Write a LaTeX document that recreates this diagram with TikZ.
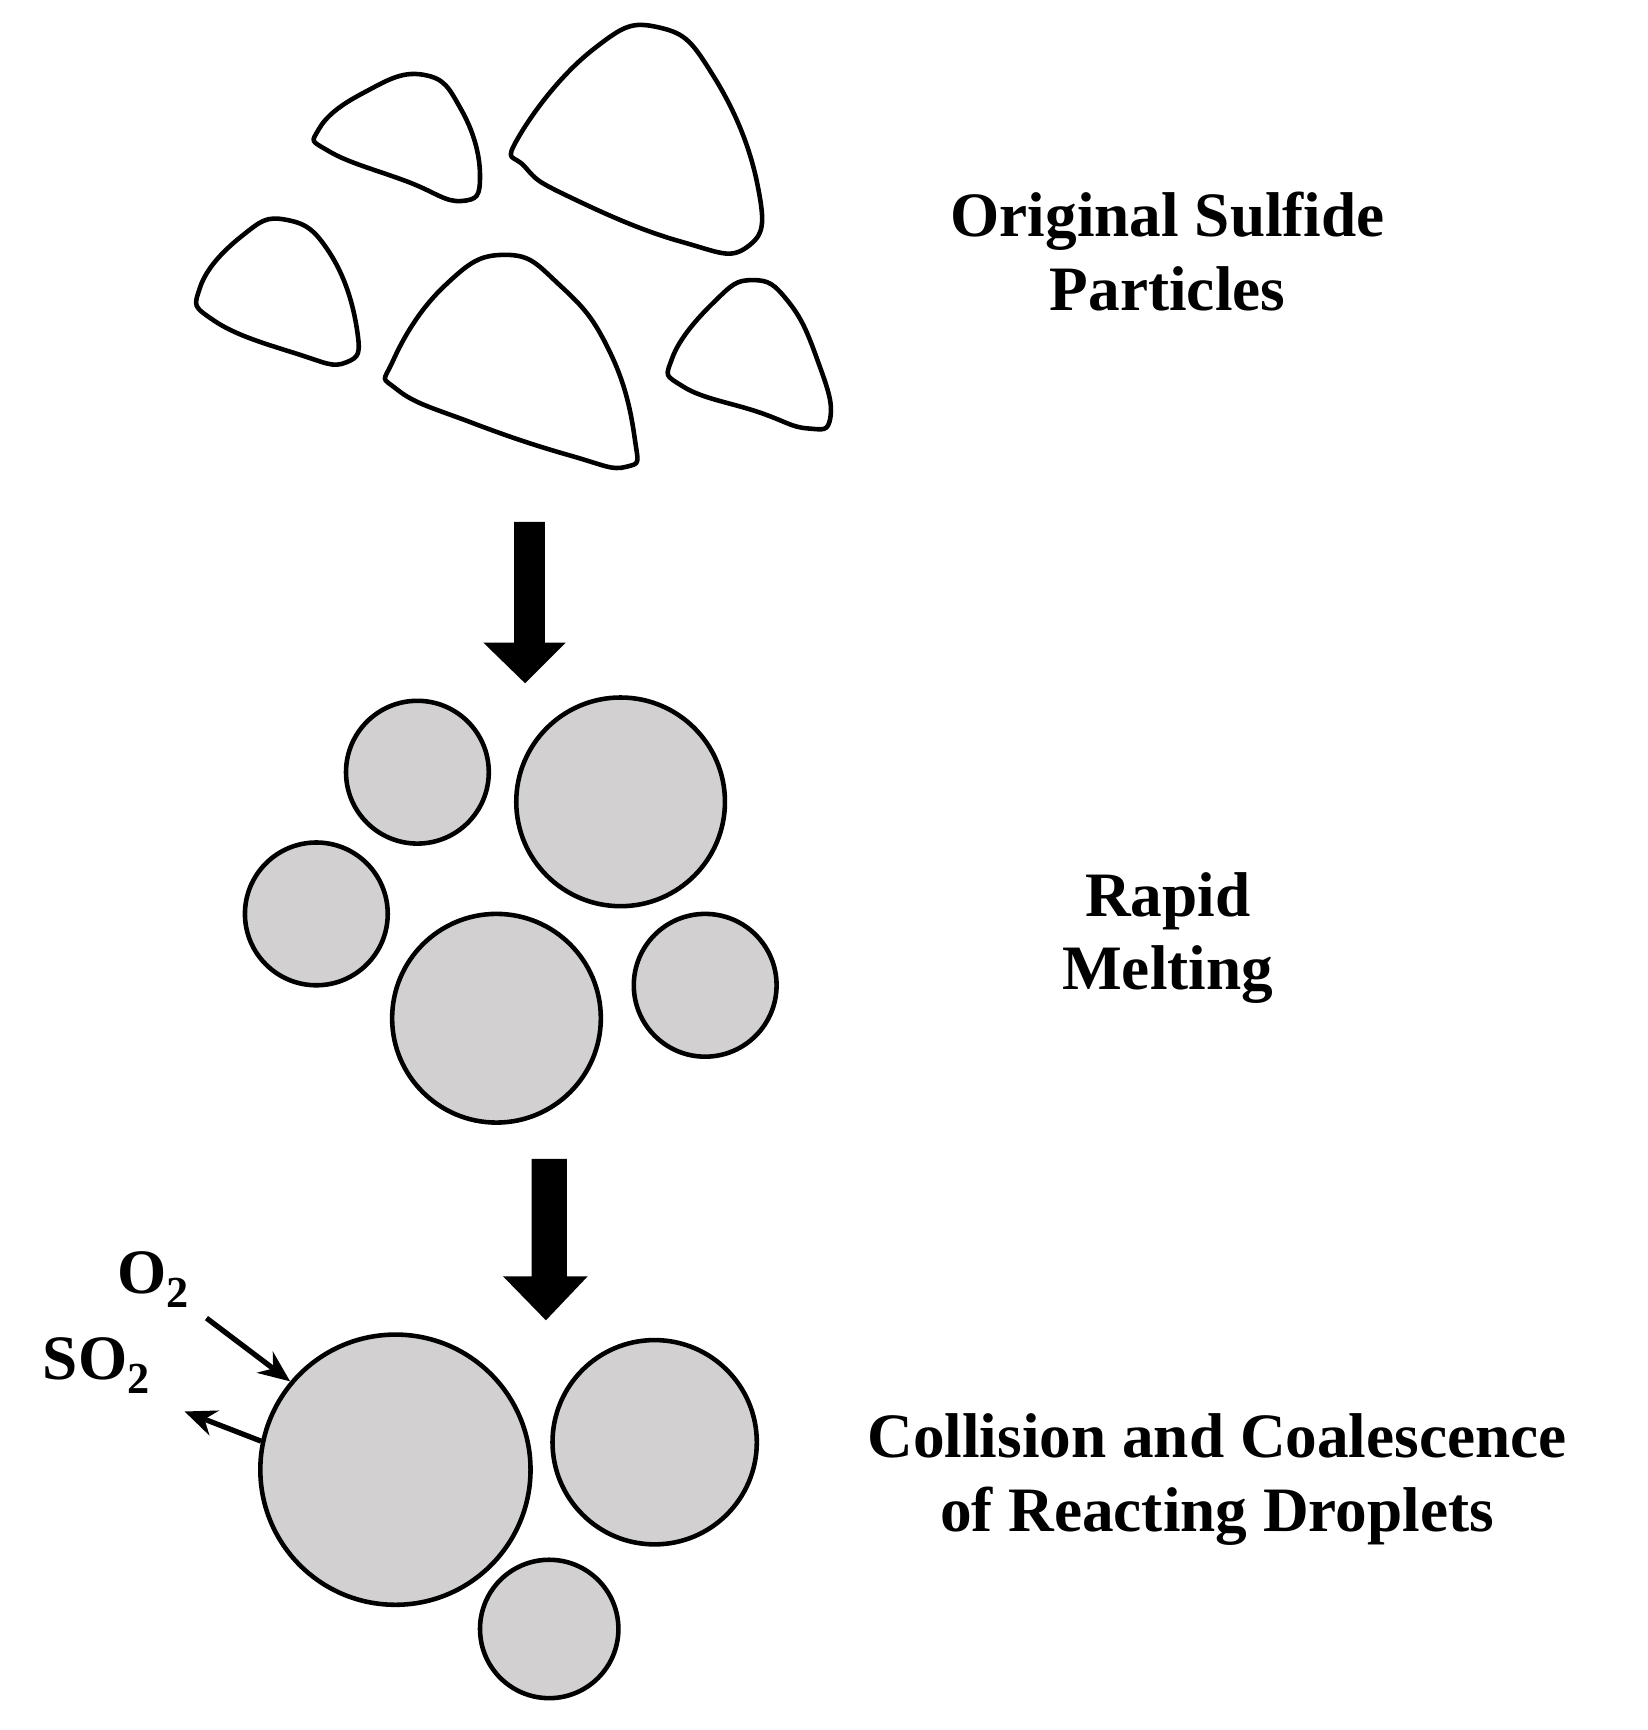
\documentclass[tikz,border=0pt]{standalone}
\usepackage{fontspec}
\usetikzlibrary{arrows.meta}
\setmainfont{Liberation Serif}
\definecolor{drop}{RGB}{211,208,209}
\begin{document}
\begin{tikzpicture}[x=0.02197cm,y=-0.02197cm,
  part/.style={line width=2.6pt,line join=round},
  dropc/.style={line width=2.6pt,fill=drop},
  lbl/.style={font=\fontsize{36}{42}\selectfont\bfseries,align=center},
  small/.style={line width=3pt,-{Stealth[length=18pt,width=15pt]}}]
\useasboundingbox (0,0) rectangle (1500,1575);
% particles
\draw[part] plot[smooth cycle,tension=0.8] coordinates {(290,118)(330,85)(385,68)(420,100)(437,160)(420,183)(370,165)(300,138)};
\draw[part] plot[smooth cycle,tension=0.8] coordinates {(472,125)(540,45)(600,25)(650,70)(690,170)(680,225)(620,220)(520,180)(478,152)};
\draw[part] plot[smooth cycle,tension=0.8] coordinates {(182,262)(220,215)(260,200)(300,230)(325,300)(315,330)(270,322)(195,292)};
\draw[part] plot[smooth cycle,tension=0.8] coordinates {(358,328)(405,260)(460,232)(510,260)(555,320)(578,400)(570,425)(520,415)(430,385)(362,355)};
\draw[part] plot[smooth cycle,tension=0.8] coordinates {(612,326)(650,275)(685,255)(718,275)(745,330)(756,380)(735,390)(690,375)(622,352)};
% big arrows
\fill (468,475) -- (496,475) -- (496,585) -- (515,585) -- (478,622) -- (440,585) -- (468,585) -- cycle;
\fill (484,1055) -- (516,1055) -- (516,1162) -- (535,1162) -- (497,1202) -- (458,1162) -- (484,1162) -- cycle;
% melted droplets
\draw[dropc] (380,703) circle (65);
\draw[dropc] (565,730) circle (95);
\draw[dropc] (288,832) circle (65);
\draw[dropc] (452,927) circle (95);
\draw[dropc] (642,897) circle (65);
% bottom
\node[draw,circle,dropc,minimum size=246*0.02197cm,inner sep=0pt] (big) at (360,1338) {};
\draw[dropc] (596,1313) circle (93);
\draw[dropc] (500,1483) circle (63);
\coordinate (o2s) at (188,1200);
\coordinate (so2e) at (168,1285);
\draw[small] (o2s) -- (big.140);
\draw[small] (big.168) -- (so2e);
\node[lbl] at (140,1165) {O\textsubscript{2}};
\node[lbl] at (88,1243) {SO\textsubscript{2}};
% labels
\node[lbl] at (1063,229) {Original Sulfide\\Particles};
\node[lbl] at (1063,854) {Rapid\\Melting};
\node[lbl] at (1108,1347) {Collision and Coalescence\\of Reacting Droplets};
\end{tikzpicture}
\end{document}
